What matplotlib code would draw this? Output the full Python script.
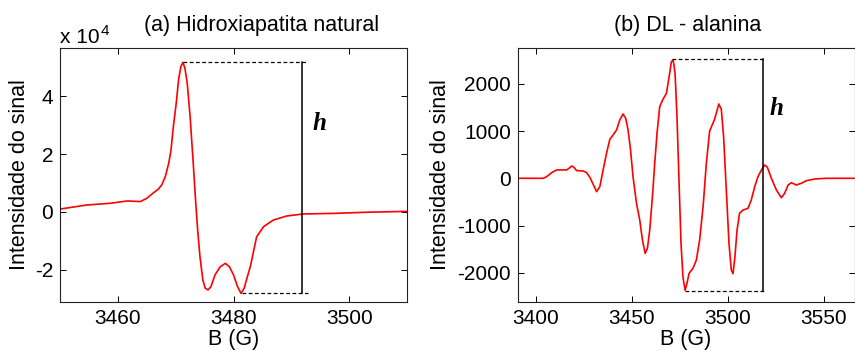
#!/usr/bin/env python3
"""
EPR spectra: (a) natural hydroxyapatite, (b) DL-alanine, with peak-to-peak height h
"""

import matplotlib
matplotlib.use('Agg')
import matplotlib.pyplot as plt

# (a) Hidroxiapatita natural -- field (G) and intensity (x 1e4)
field_a = [3450.0, 3454.6, 3458.7, 3461.6, 3463.9, 3465.0, 3466.2, 3467.0, 3467.6,
           3468.2, 3468.8, 3469.2, 3469.6, 3470.1, 3470.5, 3470.9, 3471.25, 3471.6,
           3472.0, 3472.5, 3473.0, 3473.4, 3473.8, 3474.2, 3474.7, 3475.1, 3475.6,
           3476.1, 3476.8, 3477.7, 3478.6, 3479.3, 3480.0, 3480.7, 3481.3, 3481.85,
           3482.4, 3482.9, 3484.0, 3485.2, 3486.9, 3489.2, 3492.1, 3497.3, 3503.0,
           3510.0]
signal_a = [0.10, 0.24, 0.30, 0.38, 0.36, 0.47, 0.67, 0.79, 0.94,
            1.22, 1.69, 2.15, 2.96, 3.77, 4.58, 5.04, 5.18, 4.98,
            4.46, 3.30, 1.80, 0.53, -0.62, -1.55, -2.36, -2.64, -2.70,
            -2.59, -2.18, -1.90, -1.78, -1.90, -2.18, -2.59, -2.82, -2.64,
            -2.24, -1.90, -0.86, -0.51, -0.28, -0.14, -0.07, -0.05, -0.01,
            0.02]

# (b) DL - alanina -- field (G) and intensity
field_b = [3390.5, 3403.8, 3405.6, 3408.2, 3410.8, 3416.0, 3417.7, 3418.6, 3419.8,
           3421.2, 3424.7, 3426.4, 3428.1, 3430.0, 3431.6, 3433.3, 3435.0, 3436.8,
           3438.5, 3440.2, 3442.0, 3443.7, 3445.4, 3446.8, 3448.0, 3449.3, 3450.6,
           3452.4, 3454.1, 3455.5, 3456.9, 3458.1, 3459.3, 3460.7, 3461.9, 3463.1,
           3464.5, 3466.2, 3468.0, 3469.4, 3470.6, 3471.5, 3472.5, 3473.5, 3474.6,
           3475.6, 3476.6, 3477.7, 3478.7, 3479.8, 3481.8, 3483.6, 3485.3, 3487.1,
           3488.8, 3490.5, 3493.1, 3495.3, 3496.6, 3497.8, 3499.2, 3500.6, 3501.8,
           3502.7, 3503.7, 3504.8, 3506.1, 3507.9, 3510.5, 3512.2, 3514.0, 3515.7,
           3517.5, 3519.2, 3520.6, 3522.7, 3525.3, 3527.9, 3529.6, 3531.4, 3533.1,
           3535.7, 3538.3, 3540.9, 3545.3, 3551.4, 3566.0]
signal_b = [0, 0, 35, 120, 177, 177, 226, 261, 233,
            163, 155, 120, 21, -141, -283, -178, 176, 530,
            826, 918, 1023, 1235, 1362, 1271, 1023, 600, 34,
            -530, -884, -1307, -1589, -1483, -1096, -390, 318, 954,
            1517, 1674, 1801, 2153, 2471, 2510, 2225, 1305, -106,
            -1377, -2085, -2370, -2225, -2013, -1907, -1731, -1307, -602,
            318, 1000, 1250, 1574, 1460, 882, -248, -1377, -1943,
            -2020, -1661, -1096, -742, -672, -636, -460, -178, 34,
            176, 282, 233, 0, -248, -411, -318, -142, -93,
            -142, -106, -51, -14, 0, 0]

# peak-to-peak markers: (x_max, y_max), (x_min, y_min), x of the h bar
h_a = {'top': (3471.2, 5.21), 'bottom': (3481.4, -2.82), 'bar': 3491.9, 'end': 3492.9}
h_b = {'top': (3471.0, 2530), 'bottom': (3477.6, -2380), 'bar': 3518.4, 'end': 3518.6}

titles = ['(a) Hidroxiapatita natural', '(b) DL - alanina']

plt.rcParams.update({
    'font.family': ['Liberation Sans', 'DejaVu Sans'],
    'font.size': 15,
    'axes.unicode_minus': False,
    'axes.linewidth': 0.8,
    'axes.edgecolor': '#222222',
    'xtick.direction': 'in',
    'ytick.direction': 'in',
    'xtick.top': True,
    'ytick.right': True,
    'xtick.major.size': 4,
    'ytick.major.size': 4,
    'xtick.major.width': 0.7,
    'ytick.major.width': 0.7,
    'xtick.major.pad': 5,
    'ytick.major.pad': 5,
})

W, H = 855, 351
fig = plt.figure(figsize=(W / 100, H / 100), dpi=100)


def px_axes(x0, y0, x1, y1):
    return fig.add_axes([x0 / W, 1 - y1 / H, (x1 - x0) / W, (y1 - y0) / H])


ax_a = px_axes(60, 48, 407, 302)
ax_b = px_axes(517.7, 48, 854.5, 302)


def draw_h(ax, h, h_xy):
    (xt, yt), (xb, yb) = h['top'], h['bottom']
    ax.plot([xt, h['end']], [yt, yt], color='black', ls=(0, (3, 2)), lw=0.9)
    ax.plot([xb, h['end']], [yb, yb], color='black', ls=(0, (3, 2)), lw=0.9)
    ax.plot([h['bar'], h['bar']], [yb, yt], color='black', lw=1.1)
    ax.text(h_xy[0], h_xy[1], 'h', family=['Liberation Serif'], style='italic',
            weight='bold', fontsize=18, ha='center', va='center')


# panel (a)
ax_a.plot(field_a, signal_a, color='red', lw=1.2)
ax_a.set_xlim(3450, 3510)
ax_a.set_ylim(-3.12, 5.68)
ax_a.set_xticks([3460, 3480, 3500])
ax_a.set_yticks([-2, 0, 2, 4])
draw_h(ax_a, h_a, (3494.8, 3.08))
fig.text(60 / W, 1 - 43 / H, 'x 10', fontsize=15, ha='left', va='baseline')
fig.text(101 / W, 1 - 35 / H, '4', fontsize=11, ha='left', va='baseline')

# panel (b)
ax_b.plot(field_b, signal_b, color='red', lw=1.2)
ax_b.set_xlim(3390.5, 3566)
ax_b.set_ylim(-2620, 2760)
ax_b.set_xticks([3400, 3450, 3500, 3550])
ax_b.set_yticks([-2000, -1000, 0, 1000, 2000])
draw_h(ax_b, h_b, (3525.5, 1484))

for ax, title, title_x, ylab_x in [(ax_a, titles[0], 262, 20), (ax_b, titles[1], 688, 440)]:
    x0 = ax.get_position().x0 * W
    w = ax.get_position().width * W
    ax.text((title_x - x0) / w, 1 + 23 / 254, title, transform=ax.transAxes,
            ha='center', va='center', fontsize=15.5)
    ax.set_xlabel('B (G)', fontsize=15.5, va='center')
    ax.xaxis.set_label_coords(0.5, -38 / 254)
    ax.set_ylabel('Intensidade do sinal', fontsize=15.5, va='center')
    ax.yaxis.set_label_coords((ylab_x - x0) / w, 0.5)

fig.savefig('out.png', dpi=100)
